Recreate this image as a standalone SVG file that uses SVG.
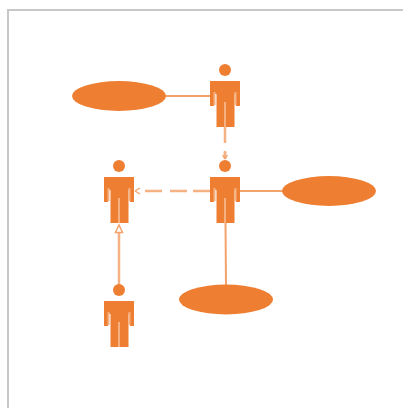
<svg xmlns="http://www.w3.org/2000/svg" width="403" height="408" viewBox="0 0 403 408">
<style>
.shape{fill:#ee7f32}
.conn{fill:none;stroke:#f6b182;stroke-width:2.500}
.assoc{fill:none;stroke:#f3a26c;stroke-width:2}
</style>
<defs>
<marker id="open" markerUnits="userSpaceOnUse" markerWidth="8" markerHeight="8" refX="6" refY="4" orient="auto">
<path d="M6 4L2 1.500M6 4L2 6.500" fill="none" stroke="#f3a26c" stroke-width="1.300"/>
</marker>
<symbol id="actor" overflow="visible">
<circle cx="0" cy="-25" r="6"/>
<path d="M-15 -14H15V11H11V-1H9.500V32H-8.500V-1H-11V11H-15Z"/>
<path d="M-10.500 -3V10M10.500 -3V10M0 7V32" fill="none" stroke="#f6b182" stroke-width="2"/>
</symbol>
</defs>
<rect x="8" y="10" width="400" height="403" fill="#fff" stroke="#c8c8c8" stroke-width="2"/>
<g id="connectors">
<path class="assoc" d="M165 96H211"/>
<path class="assoc" d="M240 191H283"/>
<path class="assoc" d="M225.500 222L226 285"/>
<path class="conn" d="M225 127V143M225 151V158"/>
<path class="conn" d="M225 152V159" marker-end="url(#open)"/>
<path class="conn" d="M210 191H193M187 191H170M162 191H145"/>
<path d="M140 191L135 188M140 191L135 194" transform="rotate(180 137.500 191)" fill="none" stroke="#f3a26c" stroke-width="1.300"/>
<path class="conn" d="M119 285V233"/>
<path d="M119 225L115.500 232.500H122.500Z" fill="#fff" stroke="#f3a26c" stroke-width="1.500"/>
</g>
<g id="actor-top" class="shape"><use href="#actor" x="225" y="95"/></g>
<g id="actor-center" class="shape"><use href="#actor" x="225" y="191"/></g>
<g id="actor-left" class="shape"><use href="#actor" x="119" y="191"/></g>
<g id="actor-bottom" class="shape"><use href="#actor" x="119" y="315"/></g>
<g id="usecase-top" class="shape"><ellipse cx="119" cy="96" rx="47" ry="15"/></g>
<g id="usecase-right" class="shape"><ellipse cx="329" cy="191" rx="47" ry="15"/></g>
<g id="usecase-bottom" class="shape"><ellipse cx="226" cy="299.500" rx="47" ry="15"/></g>
</svg>
